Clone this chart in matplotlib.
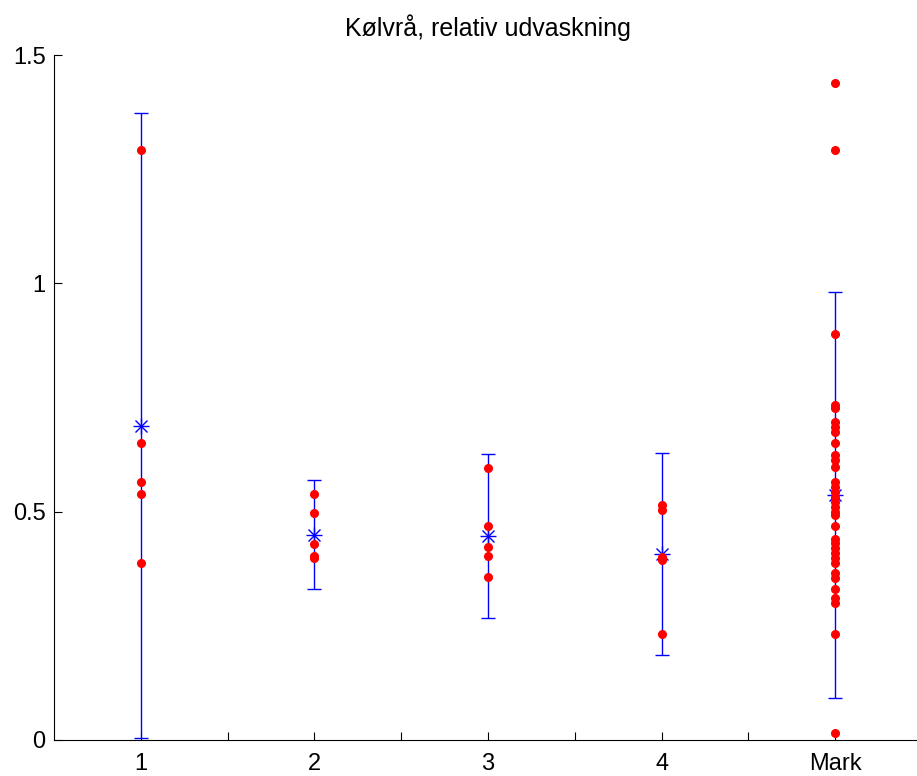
import matplotlib
matplotlib.use("Agg")
import matplotlib.pyplot as plt
import numpy as np

plt.rcParams['font.family'] = ['Liberation Sans', 'DejaVu Sans']

title = "Kølvrå, relativ udvaskning"
x_labels = ['1', '2', '3', '4', 'Mark']
positions = [1, 2, 3, 4, 5]

g1 = [1.293, 0.650, 0.566, 0.539, 0.387]
g2 = [0.539, 0.496, 0.430, 0.404, 0.398]
g3 = [0.596, 0.469, 0.422, 0.404, 0.356]
g4 = [0.514, 0.504, 0.400, 0.394, 0.233]
g_mark = [1.438, 1.293, 0.890, 0.733, 0.727, 0.697, 0.686, 0.675, 0.650,
          0.624, 0.613, 0.598, 0.566, 0.555, 0.544, 0.533, 0.522, 0.511,
          0.500, 0.493, 0.469, 0.441, 0.431, 0.420, 0.409, 0.398, 0.387,
          0.365, 0.354, 0.330, 0.312, 0.300, 0.232, 0.015]
groups = [g1, g2, g3, g4, g_mark]

means = [0.688, 0.450, 0.447, 0.408, 0.536]
errs = [0.684, 0.120, 0.179, 0.2215, 0.445]

yticks = [0, 0.5, 1, 1.5]
ytick_labels = ['0', '0.5', '1', '1.5']

W, H = 917, 776
fig = plt.figure(figsize=(W / 100, H / 100), dpi=100)
ax = fig.add_axes([54 / W, 36 / H, 868 / W, 685 / H])

ax.errorbar(positions, means, yerr=errs, fmt='none', ecolor='#0000ff',
            elinewidth=1.0, capsize=5, capthick=1.0, zorder=2)
ax.plot(positions, means, linestyle='none', marker='+', color='#0000ff',
        markersize=11, markeredgewidth=1.0, zorder=3)
ax.plot(positions, means, linestyle='none', marker='x', color='#0000ff',
        markersize=8, markeredgewidth=1.0, zorder=3)

for p, g in zip(positions, groups):
    ax.plot([p] * len(g), g, linestyle='none', marker='o', color='#ff0000',
            markeredgecolor='#ff0000', markersize=5.5, zorder=4)

ax.set_xlim(0.5, 5.5)
ax.set_ylim(0, 1.5)
xt = np.arange(1, 5.01, 0.5)
ax.set_xticks(xt)
ax.set_xticklabels([x_labels[int(v) - 1] if float(v).is_integer() else '' for v in xt])
ax.set_yticks(yticks)
ax.set_yticklabels(ytick_labels)

ax.spines['top'].set_visible(False)
ax.spines['right'].set_visible(False)
for s in ['left', 'bottom']:
    ax.spines[s].set_linewidth(0.8)
ax.tick_params(direction='in', length=6, width=0.8, labelsize=17, colors='black')
ax.tick_params(axis='x', pad=9)
ax.tick_params(axis='y', pad=6)

ax.set_title(title, fontsize=18, pad=14)

fig.savefig('out.png', dpi=100)
